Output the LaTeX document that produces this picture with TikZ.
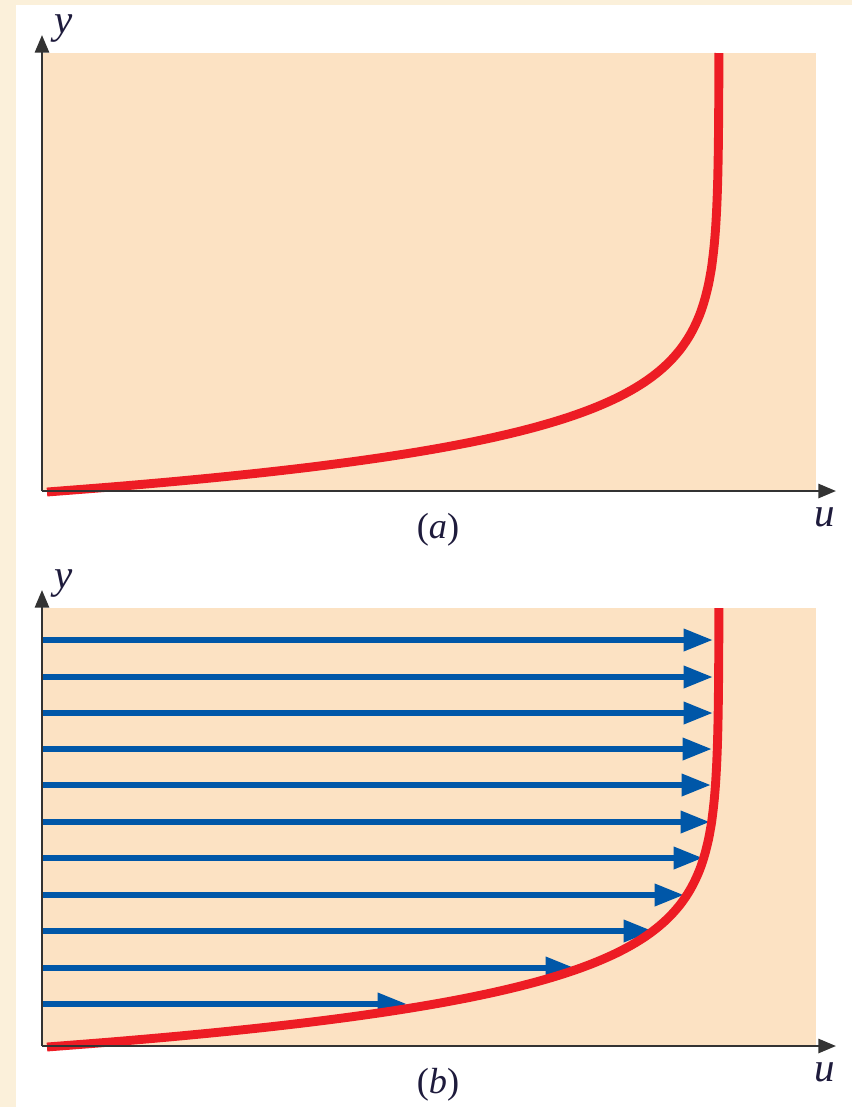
\documentclass[tikz,border=0pt]{standalone}
\usepackage{fontspec}
\setmainfont{Liberation Serif}
\usepackage{tikz}
\usetikzlibrary{arrows.meta,positioning,calc}

\definecolor{page}{HTML}{FBF0DA}
\definecolor{peach}{HTML}{FCE2C3}
\definecolor{profilered}{HTML}{ED1C24}
\definecolor{flowblue}{HTML}{0057A8}
\definecolor{axisgray}{HTML}{333333}
\definecolor{labelink}{HTML}{1E1B3C}

\begin{document}
\begin{tikzpicture}[x=0.03cm, y=-0.03cm,
    axis/.style={line width=2.1pt, axisgray, -{Triangle[length=15pt, width=12pt]}},
    profile/.style={line width=7.6pt, profilered, line cap=butt},
    flow/.style={line width=5.2pt, flowblue, -{Triangle[length=25pt, width=18pt]}},
    axlabel/.style={font=\fontsize{35}{37}\selectfont\itshape, text=labelink, inner sep=0pt},
    caption/.style={font=\fontsize{31}{33}\selectfont, text=labelink, inner sep=0pt}]
    % Page background
    \fill[page] (0,0) rectangle (852,1107);
    \fill[white] (16,5) rectangle (852,1107);
    \useasboundingbox (0,0) rectangle (852,1107);

    % Both panels
    \foreach \dy/\tag in {0/a,555/b} {
        \begin{scope}[shift={(0,\dy)}]
            \fill[peach] (43,53) rectangle (816,491);
            \coordinate (o\tag) at (42,491);
            \coordinate (ytip\tag) at (42,35);
            \coordinate (utip\tag) at (836,491);
        \end{scope}
    }

    % Velocity arrows in (b)
    \foreach \yy/\xx in {640/713,677/713,713/713,749/712,785/711,822/710,858/703,895/684,931/653,968/575,1004/407} {
        \draw[flow] (43,\yy) -- (\xx,\yy);
    }

    % Velocity profiles
    \foreach \dy/\tag in {0/a,555/b} {
        \begin{scope}[shift={(0,\dy)}]
            \draw[profile] plot[smooth, domain=0:439, samples=90, variable=\h]
                ({47+672*(1-exp(-0.02*\h))}, {492-\h});
            \node[axlabel] (y\tag) at (64,29) {y};
            \node[axlabel] (u\tag) at (825,517) {u};
            \node[caption] (cap\tag) at (438,530) {(\textit{\tag})};
        \end{scope}
        % Axes
        \draw[axis] (o\tag) -- (ytip\tag);
        \draw[axis] (o\tag) -- (utip\tag);
    }
\end{tikzpicture}
\end{document}
